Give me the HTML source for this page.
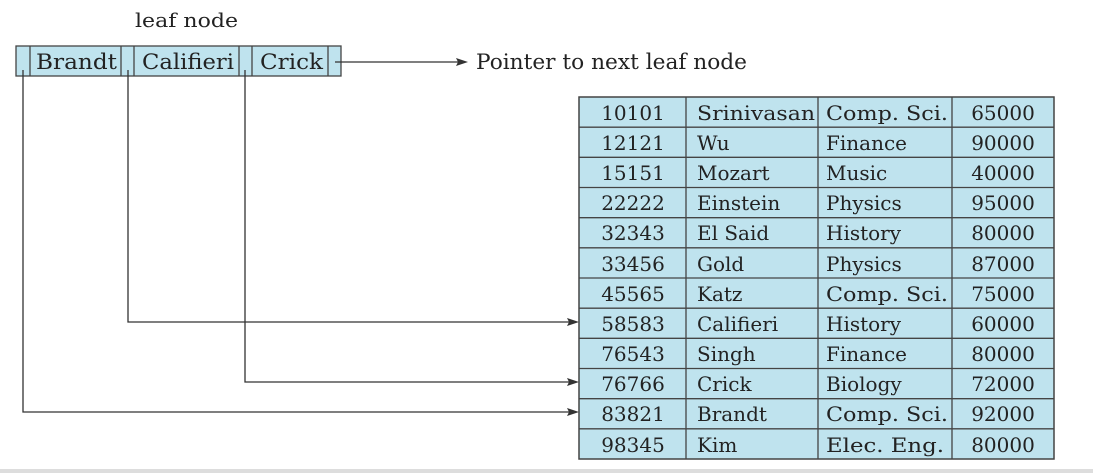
<!DOCTYPE html>
<html><head><meta charset="utf-8"><style>
body{margin:0;width:1093px;height:473px;background:#fff;overflow:hidden;position:relative;font-family:"DejaVu Serif",serif;color:#222}
svg{position:absolute;left:0;top:0}
</style></head><body>
<svg width="1093" height="473" viewBox="0 0 1093 473">
<rect x="0" y="469" width="1093" height="4" fill="#ddd"/>
<g font-family="DejaVu Serif, serif" fill="#222">
<text x="135" y="27" font-size="20" textLength="103" lengthAdjust="spacingAndGlyphs">leaf node</text>
</g>
<rect x="16" y="46" width="325" height="30" fill="#bfe3ee" stroke="#444" stroke-width="1.3"/>
<g stroke="#444" stroke-width="1.3">
<line x1="30" y1="46" x2="30" y2="76"/><line x1="121" y1="46" x2="121" y2="76"/>
<line x1="134" y1="46" x2="134" y2="76"/><line x1="239" y1="46" x2="239" y2="76"/>
<line x1="252" y1="46" x2="252" y2="76"/><line x1="328" y1="46" x2="328" y2="76"/>
</g>
<g font-size="21" fill="#222" font-family="DejaVu Serif, serif" lengthAdjust="spacingAndGlyphs">
<text x="36" y="69" textLength="81" lengthAdjust="spacingAndGlyphs">Brandt</text>
<text x="142" y="69" textLength="92" lengthAdjust="spacingAndGlyphs">Califieri</text>
<text x="260" y="69" textLength="63" lengthAdjust="spacingAndGlyphs">Crick</text>
<text x="476" y="69" textLength="271" lengthAdjust="spacingAndGlyphs">Pointer to next leaf node</text>
</g>
<g stroke="#333" stroke-width="1.3" fill="none">
<line x1="335" y1="62" x2="458" y2="62"/>
<polyline points="23,70 23,412 570,412"/>
<polyline points="128,70 128,322 570,322"/>
<polyline points="245,70 245,382 570,382"/>
</g>
<g fill="#333">
<polygon points="468,62 456,58 458,62 456,66"/>
<polygon points="579,412 567,408 569,412 567,416"/>
<polygon points="579,322 567,318 569,322 567,326"/>
<polygon points="579,382 567,378 569,382 567,386"/>
</g>
<rect x="579" y="97" width="475" height="362" fill="#bfe3ee" stroke="#444" stroke-width="1.5"/>
<g stroke="#444" stroke-width="1.3">
<line x1="686" y1="97" x2="686" y2="459"/><line x1="818" y1="97" x2="818" y2="459"/><line x1="952" y1="97" x2="952" y2="459"/>
<line x1="579" y1="127.2" x2="1054" y2="127.2"/><line x1="579" y1="157.3" x2="1054" y2="157.3"/>
<line x1="579" y1="187.5" x2="1054" y2="187.5"/><line x1="579" y1="217.7" x2="1054" y2="217.7"/>
<line x1="579" y1="247.8" x2="1054" y2="247.8"/><line x1="579" y1="278" x2="1054" y2="278"/>
<line x1="579" y1="308.2" x2="1054" y2="308.2"/><line x1="579" y1="338.3" x2="1054" y2="338.3"/>
<line x1="579" y1="368.5" x2="1054" y2="368.5"/><line x1="579" y1="398.7" x2="1054" y2="398.7"/>
<line x1="579" y1="428.8" x2="1054" y2="428.8"/>
</g>
<g font-size="20" fill="#222" font-family="DejaVu Serif, serif">
<g text-anchor="middle">
<text x="633" y="120">10101</text><text x="633" y="150">12121</text><text x="633" y="180">15151</text><text x="633" y="210">22222</text><text x="633" y="240">32343</text><text x="633" y="271">33456</text><text x="633" y="301">45565</text><text x="633" y="331">58583</text><text x="633" y="361">76543</text><text x="633" y="391">76766</text><text x="633" y="421">83821</text><text x="633" y="452">98345</text>
<text x="1003" y="120">65000</text><text x="1003" y="150">90000</text><text x="1003" y="180">40000</text><text x="1003" y="210">95000</text><text x="1003" y="240">80000</text><text x="1003" y="271">87000</text><text x="1003" y="301">75000</text><text x="1003" y="331">60000</text><text x="1003" y="361">80000</text><text x="1003" y="391">72000</text><text x="1003" y="421">92000</text><text x="1003" y="452">80000</text>
</g>
<text x="697" y="120" textLength="118" lengthAdjust="spacingAndGlyphs">Srinivasan</text><text x="697" y="150">Wu</text><text x="697" y="180">Mozart</text><text x="697" y="210">Einstein</text><text x="697" y="240">El Said</text><text x="697" y="271">Gold</text><text x="697" y="301">Katz</text><text x="697" y="331">Califieri</text><text x="697" y="361">Singh</text><text x="697" y="391">Crick</text><text x="697" y="421">Brandt</text><text x="697" y="452">Kim</text>
<g lengthAdjust="spacingAndGlyphs">
<text x="826" y="120" textLength="122" lengthAdjust="spacingAndGlyphs">Comp. Sci.</text><text x="826" y="150">Finance</text><text x="826" y="180">Music</text><text x="826" y="210">Physics</text><text x="826" y="240">History</text><text x="826" y="271">Physics</text><text x="826" y="301" textLength="122" lengthAdjust="spacingAndGlyphs">Comp. Sci.</text><text x="826" y="331">History</text><text x="826" y="361">Finance</text><text x="826" y="391">Biology</text><text x="826" y="421" textLength="122" lengthAdjust="spacingAndGlyphs">Comp. Sci.</text><text x="826" y="452" textLength="118" lengthAdjust="spacingAndGlyphs">Elec. Eng.</text>
</g>
</g>
</svg>
</body></html>
